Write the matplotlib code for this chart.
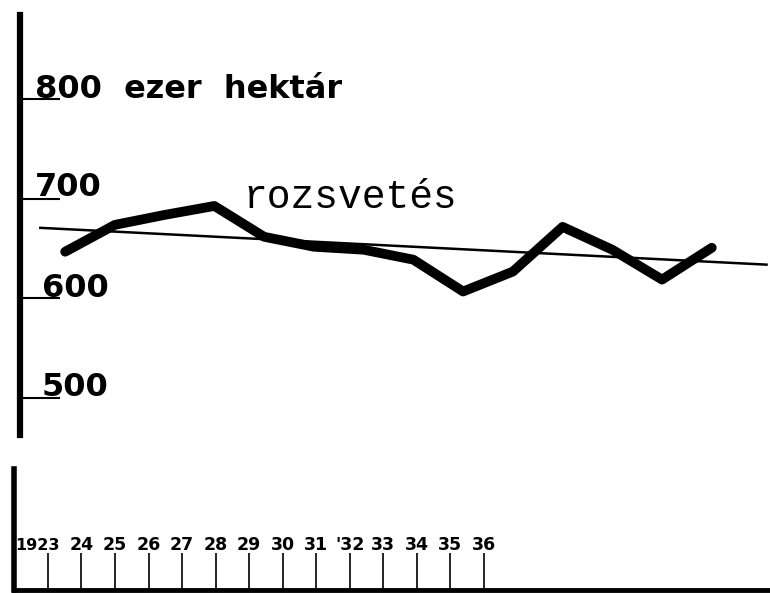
import numpy as np
import matplotlib.pyplot as plt
from matplotlib.transforms import blended_transform_factory

# rye sown area, thousand hectares
years = np.arange(1923, 1937)
area = [647, 674, 684, 693, 662, 652, 649, 639, 607, 627, 672, 649, 619, 651]

# hand-drawn trend line end points
trend_years = [1922.5, 1937.1]
trend_area = [671, 634]

y_ticks = [800, 700, 600, 500]
y_labels = ['800  ezer  hektár', '700', '600', '500']
x_labels = ['1923', '24', '25', '26', '27', '28', '29', '30', '31', "'32",
            '33', '34', '35', '36']

fig = plt.figure(figsize=(7.7, 5.93), dpi=100)

# upper panel with the curve
ax = fig.add_axes([0, 143 / 593, 1, 450 / 593])
ax.set_xlim(1921.69, 1937.17)
ax.set_ylim(447.7, 900)
ax.plot(years, area, color='black', lw=7, solid_capstyle='round',
        solid_joinstyle='round')
ax.plot(trend_years, trend_area, color='black', lw=1.8)

for s in ['top', 'right', 'bottom']:
    ax.spines[s].set_visible(False)
ax.spines['left'].set_position(('data', 1922.1))
ax.spines['left'].set_bounds(463, 885)
ax.spines['left'].set_linewidth(4.5)
ax.set_xticks([])
ax.set_yticks(y_ticks)
ax.tick_params(axis='y', direction='in', length=29, width=1.5, labelleft=False)

trans = blended_transform_factory(ax.transAxes, ax.transData)
label_x = [35, 35, 42, 42]
label_dy = [1, 3, 1, 2]
for v, lab, lx, dy in zip(y_ticks, y_labels, label_x, label_dy):
    ax.text(lx / 770, v + dy, lab, transform=trans, fontsize=23,
            fontweight='bold', va='baseline', ha='left')

ax.text(243 / 770, 691, 'rozsvetés', transform=trans, fontsize=28.5,
        family='Liberation Mono', va='baseline', ha='left')

# lower panel: the year axis
bx = fig.add_axes([0, 3 / 593, 1, 121 / 593])
bx.set_xlim(1921.57, 1944.53)
bx.set_ylim(0, 1)
for s in ['top', 'right']:
    bx.spines[s].set_visible(False)
bx.spines['left'].set_position(('data', 1922.0))
bx.spines['left'].set_linewidth(4)
bx.spines['bottom'].set_linewidth(3.5)
bx.spines['bottom'].set_bounds(1922.0, 1944.53)
bx.set_xticks(years)
bx.set_yticks([])
bx.tick_params(axis='x', direction='in', length=26.6, width=1.2,
               labelbottom=False)

for yr, lab in zip(years, x_labels):
    if yr == 1923:
        bx.text(yr + 0.36, 0.37, lab, ha='right', va='center', fontsize=11.5,
                fontweight='bold')
    else:
        bx.text(yr, 0.37, lab, ha='center', va='center', fontsize=12.5,
                fontweight='bold')

fig.savefig('out.png', dpi=100)
